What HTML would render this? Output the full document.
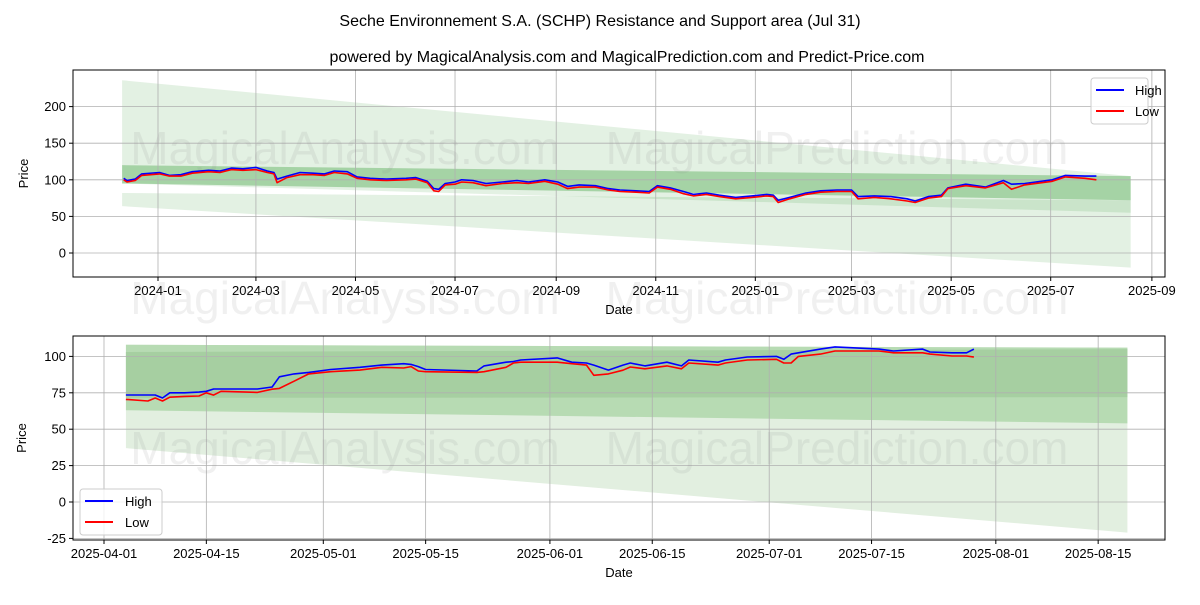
<!DOCTYPE html>
<html><head><meta charset="utf-8"><style>
body{margin:0;background:#fff;}
svg text{font-family:"Liberation Sans",sans-serif;}
</style></head><body>
<svg id="c" width="1200" height="600" xmlns="http://www.w3.org/2000/svg">
<defs>
<clipPath id="clipTop"><rect x="73" y="70" width="1092" height="207"/></clipPath>
<clipPath id="clipBot"><rect x="73" y="336" width="1092" height="204"/></clipPath>
</defs>
<text x="600" y="26" text-anchor="middle" font-size="16">Seche Environnement S.A. (SCHP) Resistance and Support area (Jul 31)</text>
<text x="627" y="62" text-anchor="middle" font-size="16">powered by MagicalAnalysis.com and MagicalPrediction.com and Predict-Price.com</text>
</svg>
<script>
// ---- top chart data ----
const topDates=["2023-12-11","2023-12-13","2023-12-18","2023-12-22","2024-01-02","2024-01-08","2024-01-15","2024-01-22","2024-02-01","2024-02-08","2024-02-15","2024-02-22","2024-03-01","2024-03-08","2024-03-12","2024-03-14","2024-03-20","2024-03-28","2024-04-05","2024-04-12","2024-04-18","2024-04-26","2024-05-02","2024-05-10","2024-05-20","2024-06-01","2024-06-07","2024-06-14","2024-06-18","2024-06-21","2024-06-25","2024-07-01","2024-07-05","2024-07-12","2024-07-20","2024-07-30","2024-08-08","2024-08-15","2024-08-25","2024-09-02","2024-09-08","2024-09-15","2024-09-25","2024-10-03","2024-10-10","2024-10-20","2024-10-28","2024-11-02","2024-11-10","2024-11-18","2024-11-24","2024-12-02","2024-12-10","2024-12-20","2024-12-30","2025-01-08","2025-01-12","2025-01-15","2025-01-22","2025-02-01","2025-02-10","2025-02-20","2025-03-01","2025-03-05","2025-03-15","2025-03-25","2025-04-04","2025-04-09","2025-04-17","2025-04-25","2025-04-29","2025-05-10","2025-05-22","2025-06-02","2025-06-07","2025-06-15","2025-07-02","2025-07-10","2025-07-22","2025-07-29"];
const topHigh=[102,99,101,108,110,106,107,111,113,112,116,115,117,112,110,101,105,110,109,108,112,111,104,102,101,102,103,98,88,87,95,97,100,99,95,97,99,97,100,97,91,93,92,88,86,85,84,92,89,84,80,82,79,76,78,80,79,72,76,82,85,86,86,77,78,77,74,71,77,79,89,94,90,99,94,95,100,106,105,105];
const topLow=[100,97,99,106,108,105,105,109,111,110,114,113,114,110,108,96,103,107,107,106,110,108,102,100,99,100,101,96,85,84,93,94,97,96,92,95,96,95,98,94,88,90,90,86,84,83,82,90,87,81,78,80,77,74,76,78,77,69,74,80,83,84,84,74,76,74,71,69,75,77,88,92,89,96,87,93,98,104,102,100];
const topYTicks=[0,50,100,150,200];
const topXTicks=["2024-01","2024-03","2024-05","2024-07","2024-09","2024-11","2025-01","2025-03","2025-05","2025-07","2025-09"];
// ---- bottom chart data ----
const botDates=["2025-04-04","2025-04-07","2025-04-08","2025-04-09","2025-04-10","2025-04-12","2025-04-14","2025-04-15","2025-04-16","2025-04-17","2025-04-22","2025-04-24","2025-04-25","2025-04-27","2025-04-29","2025-05-02","2025-05-06","2025-05-09","2025-05-12","2025-05-13","2025-05-14","2025-05-15","2025-05-22","2025-05-23","2025-05-26","2025-05-27","2025-05-28","2025-06-02","2025-06-04","2025-06-06","2025-06-07","2025-06-09","2025-06-11","2025-06-12","2025-06-14","2025-06-17","2025-06-19","2025-06-20","2025-06-24","2025-06-25","2025-06-28","2025-07-02","2025-07-03","2025-07-04","2025-07-05","2025-07-08","2025-07-10","2025-07-16","2025-07-18","2025-07-22","2025-07-23","2025-07-26","2025-07-28","2025-07-29"];
const botHigh=[73.5,73.5,73.5,71.4,75,75,75.5,76,77.6,77.6,77.6,79,86,88,89,91,92.5,94,95,94.5,93,91,90,93.5,96,96.5,97.5,99,96,95.5,94,90.6,94,95.5,93.5,96,93.5,97.5,96,97.5,99.6,100,98,101.6,102.5,105,106.5,105,103.7,105,103,102.5,102.5,105];
const botLow=[70.5,69.4,71.4,69.4,72,72.5,72.8,75,73.4,76,75.3,77.5,78,83,88,89.5,90.6,92.5,92,93,90,89.5,89,89.5,92.5,95.5,96,96,95,94,87,88,90.5,92.7,91.5,93.5,91.5,95.5,94,95.5,97.5,98,95.5,95.5,100,101.6,103.7,103.7,102.5,102.5,101.6,100.3,100.3,99.5];
const botYTicks=[-25,0,25,50,75,100];
const botXTicks=["2025-04-01","2025-04-15","2025-05-01","2025-05-15","2025-06-01","2025-06-15","2025-07-01","2025-07-15","2025-08-01","2025-08-15"];
// bands: [start, end] values
const topBandDates=["2023-12-10","2025-08-19"];
const botBandDates=["2025-04-04","2025-08-19"];
const topBandA=[[236,105],[95,55]];
const topBandB=[[120,105],[95,72]];
const topBandC=[[82,72],[64,-20]];
const botBandLight=[[108,106],[37,-21]];
const botBandMed=[[108,106],[63,54]];
const botBandDark=[[103,105],[71.5,72]];

const NS="http://www.w3.org/2000/svg";
const svg=document.getElementById('c');
function mk(tag,attrs,parent){const e=document.createElementNS(NS,tag);for(const k in attrs)e.setAttribute(k,attrs[k]);(parent||svg).appendChild(e);return e;}
function dnum(s){if(s.length===7)s+="-01";return Date.UTC(+s.slice(0,4),+s.slice(5,7)-1,+s.slice(8,10))/864e5;}

function drawChart(cfg){
  const {L,R,T,B,xScale,yScale}=cfg;
  const g=mk('g',{});
  
  
  const cg=mk('g',{'clip-path':`url(#${cfg.clip})`},g);
  // bands
  cfg.bands.forEach((b,i)=>{
    const x0=xScale(cfg.bandDates[0]),x1=xScale(cfg.bandDates[1]);
    const p=mk('polygon',{points:`${x0},${yScale(b.v[0][0])} ${x1},${yScale(b.v[0][1])} ${x1},${yScale(b.v[1][1])} ${x0},${yScale(b.v[1][0])}`,fill:b.fill,'fill-opacity':b.op},cg);
    
    
  });
  // grid & ticks
  cfg.yTicks.forEach(v=>{
    const y=yScale(v);
    const l=mk('line',{x1:L,x2:R,y1:y,y2:y,stroke:'#b0b0b0','stroke-width':0.8},g);
    
    
    mk('line',{x1:L-4,x2:L,y1:y,y2:y,stroke:'#000'},g);
    const t=mk('text',{x:L-7,y:y+4.5,'text-anchor':'end','font-size':13},g);t.textContent=v;
    
    
  });
  cfg.xTicks.forEach(d=>{
    const x=xScale(d);
    const l=mk('line',{x1:x,x2:x,y1:T,y2:B,stroke:'#b0b0b0','stroke-width':0.8},g);
    
    
    mk('line',{x1:x,x2:x,y1:B,y2:B+4,stroke:'#000'},g);
    const t=mk('text',{x:x,y:B+18,'text-anchor':'middle','font-size':13},g);t.textContent=d;
    
    
  });
  // watermarks
  cfg.wm.forEach(w=>{
    const t=mk('text',{x:w[0],y:w[1],'text-anchor':'middle','font-size':46,fill:'#888','fill-opacity':0.13},g);t.textContent=w[2];
    
    
  });
  // series
  [['high',cfg.high,'#0000ff'],['low',cfg.low,'#ff0000']].forEach(s=>{
    const pts=cfg.dates.map((d,i)=>xScale(d).toFixed(1)+','+yScale(s[1][i]).toFixed(1)).join(' ');
    const pl=mk('polyline',{points:pts,fill:'none',stroke:s[2],'stroke-width':1.6,'stroke-linejoin':'round'},g);
    
    
  });
  const fr=mk('rect',{x:L,y:T,width:R-L,height:B-T,fill:'none',stroke:'#000','stroke-width':1},g);
  
  
  const xl=mk('text',{x:(L+R)/2,y:B+37,'text-anchor':'middle','font-size':13},g);xl.textContent='Date';
  
  
  const yl=mk('text',{x:0,y:0,'text-anchor':'middle','font-size':13,transform:`translate(${cfg.ylx},${(T+B)/2}) rotate(-90)`},g);yl.textContent='Price';
  
  
  // legend
  const [lx,ly]=cfg.leg;
  const lg=mk('g',{},g);
  
  
  mk('rect',{x:lx,y:ly,width:cfg.legW,height:46,rx:3,fill:'#fff','fill-opacity':0.8,stroke:'#ccc'},lg);
  [['High','#0000ff'],['Low','#ff0000']].forEach((e,i)=>{
    const yy=ly+12+i*21;
    const le=mk('g',{},lg);
    
    
    mk('line',{x1:lx+5,x2:lx+33,y1:yy,y2:yy,stroke:e[1],'stroke-width':2},le);
    const t=mk('text',{x:lx+cfg.legTx,y:yy+5,'font-size':13},le);t.textContent=e[0];
  });
}

const tx0=dnum("2024-01-01");
drawChart({name:'top-chart',L:73,R:1165,T:70,B:277,clip:'clipTop',bandDates:topBandDates,
  xScale:d=>158+(dnum(d)-tx0)*1.632, yScale:v=>253-0.732*v,
  yTicks:topYTicks,xTicks:topXTicks,dates:topDates,high:topHigh,low:topLow,ylx:28,
  bands:[{n:'resistance-wide',v:topBandA,fill:'#008000',op:0.11},{n:'core',v:topBandB,fill:'#008000',op:0.27},{n:'support-wide',v:topBandC,fill:'#008000',op:0.11}],
  wm:[[345,164,'MagicalAnalysis.com'],[837,164,'MagicalPrediction.com'],[345,314,'MagicalAnalysis.com'],[837,314,'MagicalPrediction.com']],
  leg:[1091,78],legW:57,legTx:44});
const bx0=dnum("2025-04-01");
drawChart({name:'bottom-chart',L:73,R:1165,T:336,B:540,clip:'clipBot',bandDates:botBandDates,
  xScale:d=>104+(dnum(d)-bx0)*7.31, yScale:v=>502-1.456*v,
  yTicks:botYTicks,xTicks:botXTicks,dates:botDates,high:botHigh,low:botLow,ylx:26,
  bands:[{n:'light',v:botBandLight,fill:'#e2efe0',op:1},{n:'medium',v:botBandMed,fill:'#b7dbb3',op:1},{n:'dark',v:botBandDark,fill:'#a6cfa1',op:1}],
  wm:[[345,464,'MagicalAnalysis.com'],[837,464,'MagicalPrediction.com']],
  leg:[80,489],legW:82,legTx:45});
</script>
</body></html>
